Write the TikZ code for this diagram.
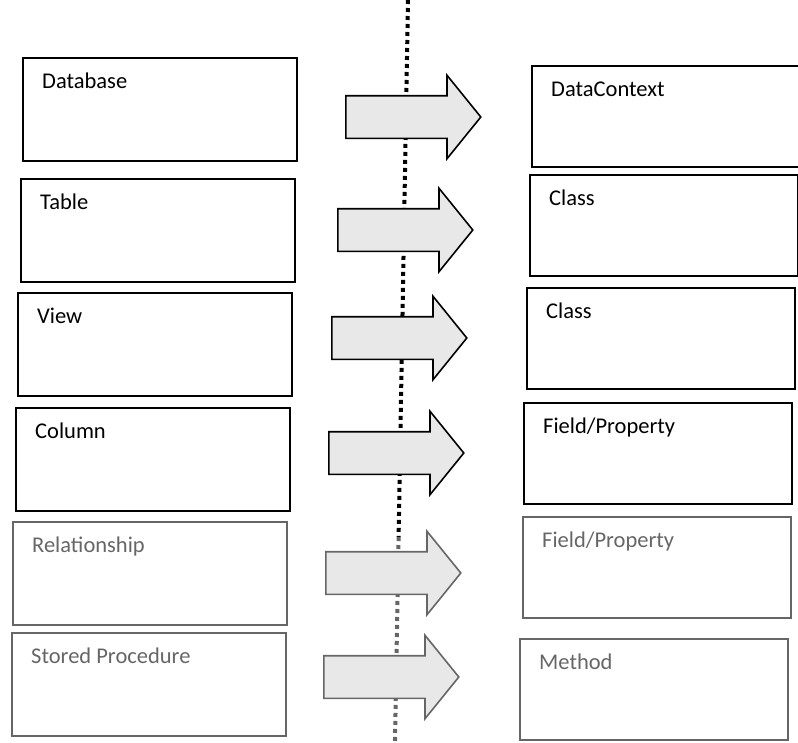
\documentclass[tikz,border=0pt]{standalone}
\usepackage{fontspec}
\setmainfont{Carlito}
\usetikzlibrary{shapes.arrows}
\definecolor{fadeink}{gray}{0.4}
\begin{document}
\begin{tikzpicture}[x=1pt, y=-1pt,
    entity/.style={draw, line width=1.8pt, minimum width=274pt,
      minimum height=103pt, inner sep=0pt, outer sep=0pt, anchor=north west},
    member/.style={entity, minimum width=268pt, minimum height=101pt},
    caption/.style={anchor=base west, inner sep=0pt,
      font=\fontsize{22.5}{27}\selectfont},
    maparrow/.style={single arrow, draw, line width=1.6pt, fill=gray!18,
      inner xsep=0pt, inner ysep=20.5pt, minimum height=135pt,
      minimum width=82pt, single arrow head extend=20.5pt,
      single arrow tip angle=102, anchor=tail}]
  \useasboundingbox (0,0) rectangle (798,742);
  % dotted divider behind the arrows
  \coordinate (divtop) at (408,0);
  \coordinate (divmid) at (398.6,537);
  \coordinate (divbot) at (395,742);
  \draw[line width=4pt, dash pattern=on 4pt off 4pt] (divtop) -- (divmid);
  \draw[fadeink, line width=4pt, dash pattern=on 4pt off 4pt] (divmid) -- (divbot);
  \foreach \i/\lx/\ly/\rx/\ry/\ax/\ay/\ink/\lt/\rt in {
      1/23/58/532/66/345/117/black/Database/DataContext,
      2/21/179/530/175/337/230/black/Table/Class,
      3/18/293/527/288/331/338/black/View/Class,
      4/16/408/524/403/328/453/black/Column/{Field/Property},
      5/13/522/523/517/325/573/fadeink/Relationship/{Field/Property},
      6/12/633/520/639/323/677/fadeink/Stored Procedure/Method}
    {
      \node[entity, draw=\ink] (src\i) at (\lx,\ly) {};
      \node[caption, text=\ink] (srctxt\i)
        at ([xshift=19pt, yshift=-30pt]src\i.north west) {\lt};
      \node[member, draw=\ink] (obj\i) at (\rx,\ry) {};
      \node[caption, text=\ink] (objtxt\i)
        at ([xshift=19pt, yshift=-30pt]obj\i.north west) {\rt};
      \node[maparrow, draw=\ink] (map\i) at (\ax,\ay) {};
    }
\end{tikzpicture}
\end{document}
